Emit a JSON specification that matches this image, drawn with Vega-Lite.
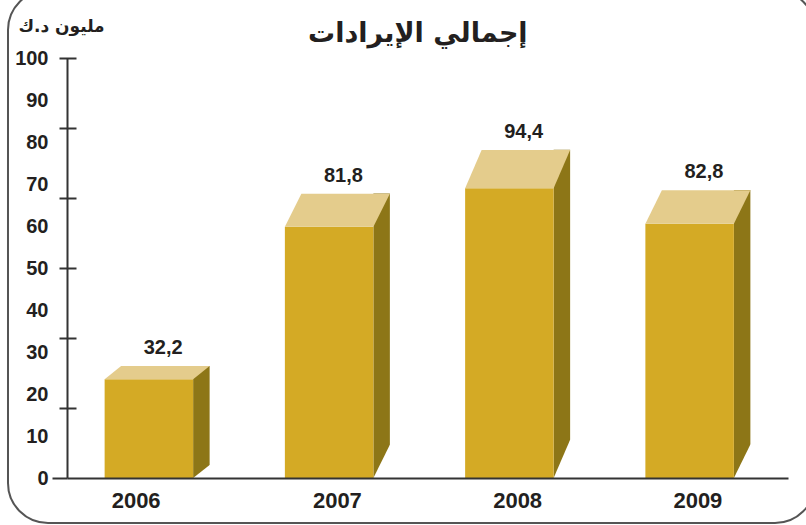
{
  "$schema": "https://vega.github.io/schema/vega-lite/v6.json",
  "width": 807,
  "height": 533,
  "autosize": {"type": "none"},
  "padding": {"left": 8, "top": -10, "right": -9, "bottom": 2},
  "background": "white",
  "title": {
    "text": "إجمالي الإيرادات",
    "font": "DejaVu Sans",
    "fontSize": 27,
    "fontWeight": "bold",
    "color": "#231f20",
    "anchor": "start",
    "frame": "group",
    "dx": 300,
    "offset": -58
  },
  "config": {
    "view": {"stroke": "#555555", "strokeWidth": 2, "cornerRadius": 40},
    "locale": {"number": {"decimal": ",", "thousands": ".", "grouping": [3], "currency": ["", ""]}}
  },
  "data": {
    "values": [
      {"year": "2006", "value": 32.2},
      {"year": "2007", "value": 81.8},
      {"year": "2008", "value": 94.4},
      {"year": "2009", "value": 82.8}
    ]
  },
  "encoding": {
    "x": {
      "field": "year",
      "type": "ordinal",
      "scale": {"paddingInner": 0, "paddingOuter": 0, "range": [59, 780]},
      "axis": {
        "title": null,
        "labelAngle": 0,
        "ticks": false,
        "domain": true,
        "domainColor": "#333333",
        "domainWidth": 2,
        "offset": -45,
        "labelFont": "Liberation Sans",
        "labelFontSize": 22,
        "labelFontWeight": "bold",
        "labelColor": "#231f20",
        "labelPadding": 12,
        "zindex": 1,
        "labelOffset": {"condition": {"test": "datum.value == '2006'", "value": -21}, "value": 0}
      }
    }
  },
  "layer": [
    {
      "mark": {"type": "bar", "width": 16.5, "xOffset": 44.25, "color": "#8d7617"},
      "encoding": {
        "y": {
          "field": "value",
          "type": "quantitative",
          "scale": {"domain": [0, 120.8], "nice": false, "range": [488, 68]},
          "axis": {
            "orient": "left",
            "values": [20.1333, 40.2667, 60.4, 80.5333, 100.6667, 120.8],
            "labels": false,
            "domain": false,
            "ticks": true,
            "tickSize": 17,
            "tickWidth": 2,
            "tickColor": "#333333",
            "offset": -68,
            "title": null,
            "grid": false,
            "zindex": 1
          }
        }
      }
    },
    {
      "mark": {"type": "point", "filled": true, "opacity": 1, "size": 4, "color": "white", "strokeWidth": 0},
      "encoding": {
        "y": {
          "datum": 0,
          "type": "quantitative",
          "scale": {"domain": [0, 100], "nice": false, "range": [488, 68]},
          "axis": {
            "orient": "left",
            "offset": -59,
            "values": [0, 10, 20, 30, 40, 50, 60, 70, 80, 90, 100],
            "labelFont": "Liberation Sans",
            "labelFontSize": 20,
            "labelFontWeight": "bold",
            "labelColor": "#231f20",
            "labelPadding": 4,
            "labelFlush": false,
            "labelOverlap": false,
            "tickSize": 15,
            "tickWidth": 2,
            "tickColor": "#333333",
            "tickOpacity": {"condition": {"test": "datum.value == 0", "value": 1}, "value": 0},
            "domain": true,
            "domainColor": "#333333",
            "domainWidth": 2,
            "grid": false,
            "zindex": 1,
            "title": "مليون د.ك",
            "titleAngle": 0,
            "titleX": -6,
            "titleY": 36,
            "titleAlign": "center",
            "titleBaseline": "middle",
            "titleFont": "DejaVu Sans",
            "titleFontSize": 17,
            "titleFontWeight": "bold",
            "titleColor": "#231f20"
          }
        },
        "shape": {
          "field": "year",
          "type": "nominal",
          "scale": {
            "domain": ["2006", "2007", "2008", "2009"],
            "range": [
              "M 36 0 L 52.5 -13.1 L 55 -13.1 L 55 1 L 36 1 Z",
              "M 36 0 L 52.5 -33.2 L 55 -33.2 L 55 1 L 36 1 Z",
              "M 36 0 L 52.5 -38.3 L 55 -38.3 L 55 1 L 36 1 Z",
              "M 36 0 L 52.5 -33.6 L 55 -33.6 L 55 1 L 36 1 Z"
            ]
          },
          "legend": null
        }
      }
    },
    {
      "mark": {"type": "bar", "width": 88.5, "xOffset": -8.25, "color": "#d4aa25"},
      "encoding": {
        "y": {
          "field": "value",
          "type": "quantitative",
          "scale": {"domain": [0, 136.8], "nice": false, "range": [488, 68]},
          "axis": null
        }
      }
    },
    {
      "mark": {"type": "point", "filled": true, "opacity": 1, "size": 4, "color": "#e4cc8c", "strokeWidth": 0},
      "encoding": {
        "y": {
          "field": "value",
          "type": "quantitative",
          "scale": {"domain": [0, 136.8], "nice": false, "range": [488, 68]},
          "axis": null
        },
        "shape": {
          "field": "year",
          "type": "nominal",
          "scale": {
            "domain": ["2006", "2007", "2008", "2009"],
            "range": [
              "M -52.5 0 L 36 0 L 52.5 -13.1 L -36 -13.1 Z",
              "M -52.5 0 L 36 0 L 52.5 -33.2 L -36 -33.2 Z",
              "M -52.5 0 L 36 0 L 52.5 -38.3 L -36 -38.3 Z",
              "M -52.5 0 L 36 0 L 52.5 -33.6 L -36 -33.6 Z"
            ]
          },
          "legend": null
        }
      }
    },
    {
      "mark": {"type": "text", "font": "Liberation Sans", "fontSize": 20, "fontWeight": "bold", "color": "#231f20", "baseline": "alphabetic", "dy": -12, "dx": 6},
      "encoding": {
        "y": {
          "field": "value",
          "type": "quantitative",
          "scale": {"domain": [0, 120.8], "nice": false, "range": [488, 68]},
          "axis": null
        },
        "text": {"field": "value", "type": "quantitative", "format": ".1f"}
      }
    }
  ],
  "resolve": {"scale": {"y": "independent", "shape": "independent"}, "axis": {"y": "independent"}}
}
